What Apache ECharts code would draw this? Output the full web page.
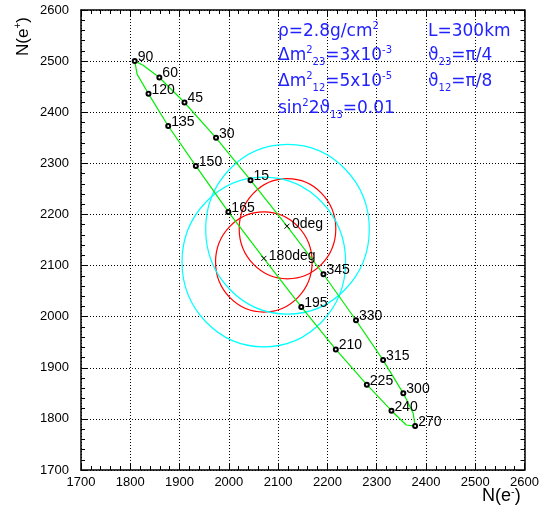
<!DOCTYPE html>
<html>
<head>
<meta charset="utf-8">
<script src="https://cdn.jsdelivr.net/npm/echarts@6/dist/echarts.min.js"></script>
<style>html,body{margin:0;padding:0;background:#fff;}#c{width:542px;height:512px;}</style>
</head>
<body>
<div id="c"></div>
<script>
// delta-CP phase (deg) along the green curve
const curveAngles = [0,15,30,45,60,75,90,105,120,135,150,165,180,195,210,225,240,255,270,285,300,315,330,345];
const curveX = [2118,2044,1974,1910,1859,1826,1809,1814,1837,1877,1933,1999,2071,2147,2217,2280,2330,2360,2378,2374,2354,2313,2258,2192];
const curveY = [2177,2267,2350,2419,2468,2492,2500,2474,2436,2373,2295,2205,2114,2019,1936,1867,1816,1788,1786,1811,1850,1915,1993,2083];
// labelled points (circle markers)
const markAngles = [15,30,45,60,90,120,135,150,165,195,210,225,240,270,300,315,330,345];
const markLabels = ['15','30','45','60','90','120','135','150','165','195','210','225','240','270','300','315','330','345'];
// cross markers
const crossAngles = [0,180];
const crossLabels = ['0deg','180deg'];
// contour circles: centre x, centre y, radius
const circleCx = [2119,2071,2119,2071];
const circleCy = [2172,2107,2171,2107];
const circleR = [98,98,166,166];
const circleColors = ['#ff0000','#ff0000','#00ffff','#00ffff'];
const ticks = [1700,1800,1900,2000,2100,2200,2300,2400,2500,2600];

function pt(a){ const i = curveAngles.indexOf(a); return [curveX[i], curveY[i]]; }
const loop = curveX.map((x,i)=>[x,curveY[i]]); loop.push([curveX[0],curveY[0]]);
const markData = markAngles.map((a,i)=>({value:pt(a), label:{formatter:markLabels[i]}}));
const crossData = crossAngles.map((a,i)=>({value:pt(a), label:{formatter:crossLabels[i]}}));
const circleData = circleCx.map((x,i)=>[x,circleCy[i],circleR[i]]);

const FONT = 'Liberation Sans';
const BLUE = '#2222ff';
const axisCommon = {
  type:'value', min:ticks[0], max:ticks[ticks.length-1], interval:100,
  axisLine:{show:true, onZero:false, lineStyle:{color:'#000', width:1.5}},
  axisTick:{show:true, inside:true, length:7, lineStyle:{color:'#000', width:1}},
  minorTick:{show:true, splitNumber:5, length:4, lineStyle:{color:'#000', width:1}},
};
const rich = {
  m:{fontSize:17, fontFamily:'DejaVu Sans', color:BLUE, lineHeight:22, verticalAlign:'middle'},
  sup:{fontSize:10, fontFamily:'DejaVu Sans', color:BLUE, lineHeight:22, verticalAlign:'top'},
  sub:{fontSize:10, fontFamily:'DejaVu Sans', color:BLUE, lineHeight:22, verticalAlign:'bottom'}
};
function txt(x,y,t){ return {type:'text', x:x, y:y, style:{text:t, rich:rich, fill:BLUE, font:'17px DejaVu Sans'}, z:100}; }
const lblFmt = v => String(v);

const chart = echarts.init(document.getElementById('c'), null, {renderer:'canvas'});
chart.setOption({
  animation:false,
  backgroundColor:'#fff',
  grid:{left:81, top:10, right:15, bottom:42, containLabel:false},
  xAxis:[
    Object.assign({}, axisCommon, {position:'bottom',
      splitLine:{show:true, lineStyle:{color:'#000', type:[1,2], width:1}},
      axisLabel:{show:true, color:'#000', fontSize:13, fontFamily:FONT, margin:6, formatter:lblFmt}}),
    Object.assign({}, axisCommon, {position:'top', splitLine:{show:false}, axisLabel:{show:false}})
  ],
  yAxis:[
    Object.assign({}, axisCommon, {position:'left',
      splitLine:{show:true, lineStyle:{color:'#000', type:[1,2], width:1}},
      axisLabel:{show:true, color:'#000', fontSize:13, fontFamily:FONT, margin:12, formatter:lblFmt}}),
    Object.assign({}, axisCommon, {position:'right', splitLine:{show:false}, axisLabel:{show:false}})
  ],
  series:[
    {type:'custom', xAxisIndex:0, yAxisIndex:0, data:circleData, silent:true, z:3,
      encode:{x:0, y:1},
      renderItem:function(params, api){
        const c = api.coord([api.value(0), api.value(1)]);
        const s = api.size([api.value(2), api.value(2)]);
        return {type:'ellipse', shape:{cx:c[0], cy:c[1], rx:s[0], ry:s[1]},
          style:{fill:'none', stroke:circleColors[params.dataIndex], lineWidth:1.2}};
      }},
    {type:'line', data:loop, showSymbol:false, symbol:'none', silent:true, z:4,
      lineStyle:{color:'#00ee00', width:1.2}},
    {type:'scatter', data:markData, symbol:'emptyCircle', symbolSize:4, z:5, silent:true,
      itemStyle:{color:'#000', borderColor:'#000', borderWidth:0.8, opacity:1},
      label:{show:true, position:'right', distance:0, offset:[0,-4], color:'#000', opacity:1, fontSize:14, fontFamily:FONT}},
    {type:'scatter', data:crossData, symbol:'path://M0,0L10,10M10,0L0,10', symbolSize:5, z:5, silent:true,
      itemStyle:{color:'none', borderColor:'#000', borderWidth:1, opacity:1},
      label:{show:true, position:'right', distance:0, offset:[0,-2], color:'#000', opacity:1, fontSize:14, fontFamily:FONT}}
  ],
  graphic:[
    txt(278,21,'{m|ρ=2.8g/cm}{sup|2}'),
    txt(278,45,'{m|Δm}{sup|2}{sub|23}{m|=3x10}{sup|-3}'),
    txt(278,71,'{m|Δm}{sup|2}{sub|12}{m|=5x10}{sup|-5}'),
    txt(278,98,'{m|sin}{sup|2}{m|2ϑ}{sub|13}{m|=0.01}'),
    txt(428,21,'{m|L=300km}'),
    txt(428,45,'{m|ϑ}{sub|23}{m|=π/4}'),
    txt(428,71,'{m|ϑ}{sub|12}{m|=π/8}'),
    {type:'text', x:13, y:56, rotation:Math.PI/2,
      style:{text:'{a|N(e}{s|+}{a|)}', rich:{a:{fontSize:17, fontFamily:FONT, color:'#000', lineHeight:20, verticalAlign:'middle'}, s:{fontSize:10, fontFamily:FONT, color:'#000', lineHeight:20, verticalAlign:'top'}}, fill:'#000'}},
    {type:'text', x:482, y:486,
      style:{text:'{a|N(e}{s|-}{a|)}', rich:{a:{fontSize:18, fontFamily:FONT, color:'#000', lineHeight:20, verticalAlign:'middle'}, s:{fontSize:11, fontFamily:FONT, color:'#000', lineHeight:20, verticalAlign:'top'}}, fill:'#000'}}
  ]
});
</script>
</body>
</html>
